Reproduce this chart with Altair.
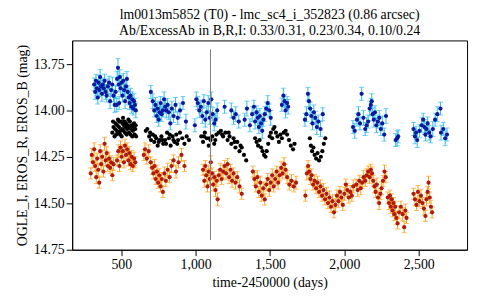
import altair as alt
import pandas as pd

TITLE1 = "lm0013m5852 (T0) - lmc_sc4_i_352823 (0.86 arcsec)"
TITLE2 = "Ab/ExcessAb in B,R,I: 0.33/0.31, 0.23/0.34, 0.10/0.24"
X_TITLE = "time-2450000 (days)"
Y_TITLE = "OGLE_I, EROS_R, EROS_B (mag)"
X_TICKS = [500, 1000, 1500, 2000, 2500]
Y_TICKS = [13.75, 14.00, 14.25, 14.50, 14.75]
VLINE_T = [1100]
VLINE_RANGE = [13.67, 14.70]

# EROS_B: (time, mag, err)
eros_b = [
    (318,13.86,.035),(325,13.90,.04),(330,13.84,.035),(336,13.88,.04),(342,13.93,.035),(348,13.85,.04),
    (352,13.89,.035),(358,13.82,.04),(364,13.87,.035),(370,13.91,.04),(376,13.86,.035),(382,13.88,.04),
    (388,13.84,.035),(395,13.90,.04),(402,13.92,.035),(410,13.87,.04),(418,13.85,.035),(425,13.95,.04),
    (432,13.89,.035),(440,13.86,.04),(448,13.92,.035),(456,13.97,.04),(462,13.90,.035),
    (470,13.97,.035),(472,13.83,.04),(478,13.77,.05),(484,13.86,.04),(486,13.96,.035),(490,13.82,.04),
    (496,13.88,.035),(502,13.85,.04),(508,13.92,.035),(514,13.84,.04),(520,13.89,.035),(526,13.95,.04),
    (532,13.87,.035),(538,13.83,.04),(544,13.90,.035),(550,13.93,.04),(556,13.96,.035),(562,13.92,.04),
    (568,13.98,.035),(574,13.94,.04),(580,13.99,.035),(586,13.95,.04),(592,13.97,.035),(598,14.00,.04),
    (699,13.90,.035),(712,13.95,.04),(722,14.00,.035),(730,13.97,.04),(738,14.03,.035),(745,13.99,.04),
    (752,14.05,.035),(758,14.01,.04),(765,13.96,.035),(772,14.02,.04),(780,14.00,.035),(788,13.94,.04),
    (795,13.98,.035),(803,14.00,.04),(812,13.97,.035),(820,14.01,.04),(830,14.07,.035),(840,13.99,.04),
    (852,14.03,.035),(865,13.97,.04),(880,14.04,.035),(895,14.00,.04),(915,13.96,.035),(935,14.06,.04),
    (995,14.08,.035),(1005,13.94,.04),(1015,13.96,.035),(1025,14.00,.04),(1035,13.98,.035),(1045,14.03,.04),
    (1055,13.95,.035),(1065,14.05,.04),(1075,14.01,.035),(1085,13.96,.04),(1095,14.04,.035),(1105,13.94,.04),
    (1115,14.02,.035),(1125,14.07,.04),(1135,14.05,.035),(1145,14.00,.04),(1195,13.98,.035),(1240,14.00,.04),
    (1255,14.04,.035),(1270,14.02,.04),(1290,14.06,.035),
    (1330,14.05,.035),(1345,13.99,.04),(1365,14.08,.035),(1380,14.02,.04),(1392,13.98,.035),(1400,14.06,.04),
    (1410,14.01,.035),(1418,14.04,.04),(1425,14.09,.035),(1432,14.03,.04),(1440,14.07,.035),(1448,14.11,.04),
    (1456,14.05,.035),(1465,14.02,.04),(1475,13.99,.035),(1485,13.96,.04),(1495,14.00,.035),(1505,14.04,.04),
    (1580,13.97,.035),(1590,13.92,.04),(1598,13.95,.035),(1605,14.00,.04),(1615,13.96,.035),(1622,13.98,.04),
    (1735,14.05,.035),(1745,14.02,.04),(1755,13.91,.035),(1762,13.95,.04),(1770,13.99,.035),(1778,14.03,.04),
    (1786,14.07,.035),(1795,14.01,.04),(1805,14.04,.035),(1815,14.09,.04),(1825,14.06,.035),(1840,14.10,.04),
    (1855,14.02,.035),
    (2058,14.09,.035),(2070,14.11,.04),(2085,14.05,.035),(2095,14.02,.04),(2105,14.07,.035),(2116,13.91,.035),
    (2128,14.04,.04),(2140,14.10,.035),(2150,14.08,.04),(2160,14.06,.035),(2170,13.99,.04),(2178,13.97,.035),
    (2184,13.95,.04),(2190,14.02,.035),(2198,14.05,.04),(2206,14.01,.035),(2215,14.08,.04),(2225,14.06,.035),
    (2235,14.04,.04),(2245,14.10,.035),(2255,14.07,.04),(2268,14.13,.035),(2280,14.03,.04),
    (2345,14.16,.035),(2355,14.15,.04),(2362,14.14,.035),
    (2465,14.10,.035),(2475,14.14,.04),(2482,14.12,.035),(2490,14.16,.04),(2505,14.11,.035),(2520,14.08,.04),
    (2530,14.05,.035),(2538,14.09,.04),(2545,14.13,.035),(2552,14.10,.04),(2560,14.07,.035),(2570,14.12,.04),
    (2580,14.14,.035),(2595,14.10,.04),(2610,14.05,.035),(2625,14.02,.04),(2646,13.99,.035),(2650,14.12,.04),
    (2665,14.10,.035),(2678,14.15,.04),(2690,14.13,.035),
]

# OGLE_I: (time, mag)
ogle_i = [
    (440,14.12),(448,14.09),(455,14.14),(462,14.07),(470,14.11),(478,14.05),(485,14.09),(492,14.13),
    (500,14.06),(506,14.10),(512,14.04),(518,14.08),(525,14.12),(532,14.07),(540,14.10),(548,14.05),
    (555,14.09),(562,14.13),(570,14.08),(578,14.11),(586,14.07),(594,14.10),(600,14.14),
    (445,14.06),(458,14.10),(466,14.13),(474,14.08),(482,14.12),(488,14.06),(496,14.11),(503,14.14),
    (509,14.07),(515,14.11),(522,14.06),(528,14.09),(536,14.13),(544,14.08),(552,14.12),(558,14.06),
    (566,14.10),(574,14.14),(582,14.09),(590,14.13),(597,14.08),
    (665,14.11),(675,14.10),(688,14.14),(700,14.16),(712,14.13),(722,14.17),(735,14.15),(745,14.19),
    (758,14.16),(770,14.14),(782,14.18),(795,14.16),(808,14.12),(820,14.15),(832,14.19),(845,14.14),
    (858,14.17),(870,14.13),(882,14.16),(895,14.12),(910,14.15),(925,14.18),(940,14.14),(955,14.16),
    (694,14.12),(728,14.14),(752,14.17),(776,14.16),(801,14.18),(826,14.13),(851,14.16),(876,14.18),
    (1038,14.14),(1050,14.17),(1062,14.12),(1075,14.15),(1088,14.19),(1100,14.16),(1112,14.14),(1125,14.18),
    (1140,14.13),(1155,14.12),(1170,14.11),(1185,14.14),(1200,14.12),(1215,14.16),(1228,14.14),(1240,14.18),
    (1255,14.15),(1268,14.20),(1280,14.17),(1295,14.22),(1310,14.20),(1325,14.24),(1340,14.27),
    (1056,14.14),(1094,14.15),(1132,14.16),(1178,14.13),(1222,14.12),(1262,14.17),(1302,14.19),
    (1400,14.15),(1410,14.17),(1420,14.19),(1430,14.16),(1440,14.20),(1450,14.22),(1460,14.24),(1470,14.25),
    (1478,14.22),(1488,14.18),(1498,14.14),(1506,14.12),(1515,14.15),(1522,14.10),(1530,14.09),(1540,14.12),
    (1550,14.14),(1560,14.17),(1570,14.13),(1580,14.15),(1592,14.12),(1605,14.11),(1615,14.13),(1628,14.16),
    (1640,14.19),(1655,14.21),(1665,14.18),
    (1768,14.15),(1775,14.19),(1783,14.22),(1792,14.20),(1800,14.24),(1810,14.26),(1820,14.23),(1830,14.27),
    (1842,14.25),(1852,14.22),(1862,14.18),(1872,14.15),
]

# EROS_R: (time, mag, err)
eros_r = [
    (295,14.34,.03),(302,14.24,.035),(310,14.28,.03),(318,14.21,.035),(325,14.30,.03),(332,14.36,.035),
    (338,14.26,.03),(345,14.32,.035),(352,14.39,.03),(358,14.22,.035),(365,14.29,.03),(372,14.25,.035),
    (380,14.33,.03),(388,14.18,.035),(395,14.27,.03),(402,14.23,.035),(410,14.30,.03),(418,14.26,.035),
    (425,14.31,.03),(432,14.28,.035),(440,14.35,.03),(448,14.29,.035),
    (472,14.27,.03),(480,14.22,.035),(488,14.30,.03),(495,14.20,.035),(502,14.25,.03),(510,14.22,.035),
    (518,14.28,.03),(525,14.19,.035),(532,14.24,.03),(540,14.21,.035),(548,14.27,.03),(555,14.23,.035),
    (562,14.29,.03),(570,14.25,.035),(578,14.30,.03),(586,14.26,.035),(594,14.28,.03),
    (652,14.24,.03),(660,14.21,.035),(672,14.26,.03),(685,14.22,.035),(698,14.28,.03),(708,14.31,.035),
    (716,14.34,.03),(724,14.30,.035),(732,14.37,.03),(740,14.33,.035),(748,14.39,.03),(756,14.35,.035),
    (764,14.41,.03),(772,14.37,.035),(780,14.44,.03),(790,14.34,.035),(800,14.38,.03),(812,14.32,.035),
    (825,14.36,.03),(838,14.30,.035),(852,14.27,.03),(868,14.33,.035),(885,14.28,.03),(905,14.24,.035),
    (925,14.30,.03),
    (1050,14.32,.03),(1058,14.38,.035),(1065,14.30,.03),(1072,14.35,.035),(1080,14.41,.03),(1088,14.33,.035),
    (1095,14.37,.03),(1102,14.28,.035),(1110,14.34,.03),(1118,14.40,.035),(1126,14.36,.03),(1134,14.43,.035),
    (1142,14.38,.03),(1148,14.48,.035),(1156,14.35,.03),(1165,14.32,.035),(1175,14.37,.03),(1185,14.33,.035),
    (1195,14.30,.03),(1205,14.34,.035),(1215,14.29,.03),(1225,14.36,.035),(1235,14.32,.03),(1245,14.38,.035),
    (1255,14.34,.03),(1268,14.39,.035),(1280,14.36,.03),(1295,14.41,.035),(1310,14.45,.03),
    (1385,14.33,.03),(1395,14.37,.035),(1405,14.41,.03),(1415,14.36,.035),(1425,14.44,.03),(1435,14.39,.035),
    (1445,14.46,.03),(1455,14.42,.035),(1465,14.48,.03),(1475,14.40,.035),(1485,14.37,.03),(1495,14.43,.035),
    (1505,14.39,.03),(1515,14.35,.035),(1525,14.41,.03),(1535,14.37,.035),(1545,14.33,.03),(1555,14.39,.035),
    (1565,14.35,.03),(1575,14.31,.035),(1585,14.34,.03),(1595,14.29,.035),(1605,14.32,.03),(1615,14.36,.035),
    (1630,14.40,.03),(1645,14.38,.035),(1660,14.41,.03),(1675,14.39,.035),
    (1738,14.46,.03),(1748,14.34,.035),(1756,14.30,.03),(1764,14.33,.035),(1772,14.37,.03),(1780,14.35,.035),
    (1790,14.40,.03),(1800,14.38,.035),(1810,14.42,.03),(1820,14.39,.035),(1830,14.44,.03),(1840,14.41,.035),
    (1850,14.46,.03),(1860,14.43,.035),(1870,14.48,.03),(1880,14.45,.035),(1890,14.50,.03),(1900,14.47,.035),
    (1910,14.52,.03),(1920,14.49,.035),(1930,14.55,.03),(1940,14.51,.035),(1950,14.46,.03),(1960,14.49,.035),
    (1970,14.44,.03),(1980,14.47,.035),(1990,14.51,.03),(2000,14.45,.035),(2010,14.40,.03),(2020,14.43,.035),
    (2030,14.47,.03),(2040,14.44,.035),(2050,14.46,.03),(2060,14.41,.035),
    (2080,14.40,.03),(2090,14.43,.035),(2100,14.38,.03),(2110,14.42,.035),(2120,14.39,.03),(2130,14.36,.035),
    (2140,14.38,.03),(2150,14.35,.035),(2160,14.33,.03),(2170,14.36,.035),(2178,14.32,.03),(2186,14.34,.035),
    (2194,14.38,.03),(2202,14.41,.035),(2210,14.44,.03),(2218,14.40,.035),(2226,14.47,.03),(2234,14.50,.035),
    (2242,14.45,.03),(2250,14.42,.035),(2260,14.38,.03),(2270,14.33,.035),(2278,14.36,.03),
    (2292,14.47,.03),(2300,14.50,.035),(2306,14.46,.03),(2312,14.52,.035),(2318,14.48,.03),(2324,14.54,.035),
    (2330,14.50,.03),(2336,14.56,.035),(2342,14.52,.03),(2350,14.58,.035),(2358,14.61,.03),(2368,14.55,.035),
    (2380,14.52,.03),(2392,14.56,.035),(2402,14.63,.03),(2410,14.54,.035),(2418,14.58,.03),
    (2465,14.45,.03),(2475,14.48,.035),(2485,14.51,.03),(2495,14.44,.035),(2505,14.49,.03),(2515,14.46,.035),
    (2525,14.50,.03),(2535,14.53,.035),(2545,14.57,.03),(2552,14.48,.035),(2560,14.44,.03),(2566,14.39,.035),
    (2574,14.47,.03),(2582,14.52,.035),(2590,14.55,.03),
]

def with_err(rows):
    df = pd.DataFrame(rows, columns=["t", "mag", "err"])
    df["lo"] = df["mag"] - df["err"]
    df["hi"] = df["mag"] + df["err"]
    return df

b_df = with_err(eros_b)
r_df = with_err(eros_r)
i_df = pd.DataFrame(ogle_i, columns=["t", "mag"])

FONT = "Liberation Serif"
xs = alt.Scale(domain=[170, 2825], nice=False, zero=False)
ys = alt.Scale(domain=[13.622, 14.752], nice=False, zero=False, reverse=True)

x_axis = alt.Axis(values=X_TICKS, format=",.0f", grid=False, labelFont=FONT, labelFontSize=14,
                  titleFont=FONT, titleFontSize=14, titleFontWeight="normal", labelPadding=2, titlePadding=4)
y_axis = alt.Axis(values=Y_TICKS, format=".2f", grid=False, labelFont=FONT, labelFontSize=14,
                  titleFont=FONT, titleFontSize=14, titleFontWeight="normal", labelPadding=2, titlePadding=4)

x_enc = alt.X("t:Q", scale=xs, title=X_TITLE, axis=x_axis)
y_enc = alt.Y("mag:Q", scale=ys, title=Y_TITLE, axis=y_axis)

def errlayers(df, bar_color, pt_color):
    base = alt.Chart(df)
    rule = base.mark_rule(color=bar_color, strokeWidth=1).encode(
        x=x_enc, y=alt.Y("lo:Q", scale=ys, title=Y_TITLE, axis=y_axis), y2="hi:Q")
    cap_lo = base.mark_tick(color=bar_color, orient="horizontal", size=5, thickness=1).encode(
        x=x_enc, y=alt.Y("lo:Q", scale=ys, title=Y_TITLE, axis=y_axis))
    cap_hi = base.mark_tick(color=bar_color, orient="horizontal", size=5, thickness=1).encode(
        x=x_enc, y=alt.Y("hi:Q", scale=ys, title=Y_TITLE, axis=y_axis))
    pts = base.mark_circle(color=pt_color, size=18, opacity=1).encode(x=x_enc, y=y_enc)
    return [rule, cap_lo, cap_hi, pts]

vline = alt.Chart(pd.DataFrame({"t": VLINE_T, "lo": [VLINE_RANGE[0]], "hi": [VLINE_RANGE[1]]})).mark_rule(
    color="#808080", strokeWidth=1).encode(
    x=x_enc, y=alt.Y("lo:Q", scale=ys, title=Y_TITLE, axis=y_axis), y2="hi:Q")

ogle = alt.Chart(i_df).mark_circle(color="#000000", size=18, opacity=1).encode(x=x_enc, y=y_enc)

layers = errlayers(b_df, "#33BBEE", "#0A1A9E") + [ogle] + errlayers(r_df, "#FF9F1C", "#B01A0A") + [vline]

chart = alt.layer(*layers).properties(
    width=400, height=212,
    title=alt.TitleParams(text=[TITLE1, TITLE2], font=FONT, fontSize=14, fontWeight="normal",
                          color="black", anchor="middle", lineHeight=16, offset=3),
    autosize=alt.AutoSizeParams(type="none"),
    padding={"left": 65, "top": 31, "right": 5, "bottom": 45},
).configure_view(stroke="black", strokeWidth=1).configure_axis(
    labelColor="black", titleColor="black", domainColor="black", tickColor="black", tickSize=6,
)

chart.save("out.html", embed_options={"renderer": "svg", "actions": False})
